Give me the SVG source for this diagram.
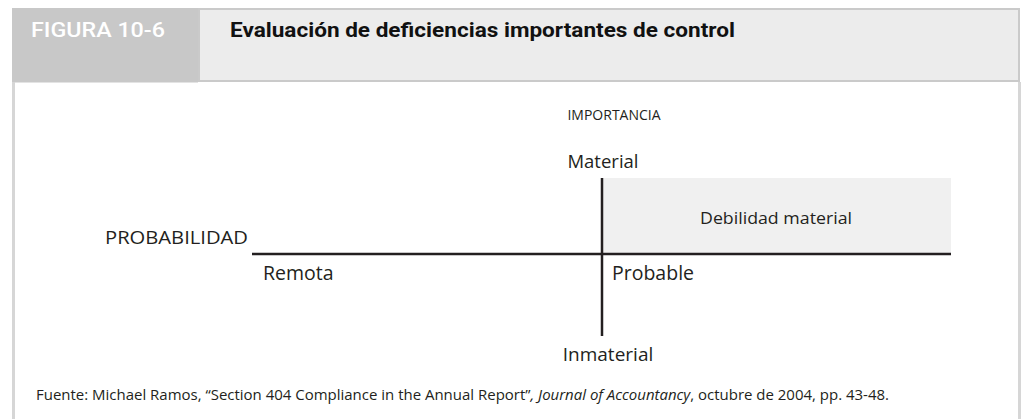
<svg xmlns="http://www.w3.org/2000/svg" width="1022" height="419" viewBox="0 0 1022 419">
<style>
.t{font-family:"Open Sans","Noto Sans",sans-serif;fill:#231f20}
.hd{font-family:Roboto,"Liberation Sans",sans-serif;font-size:20.5px}
.ax{stroke:#231f20;stroke-width:2.5;fill:none}
</style>
<rect width="1022" height="419" fill="#ffffff"/>
<g id="header">
<rect x="199" y="9" width="820" height="72" fill="#ececec" stroke="#cacaca" stroke-width="2"/>
<rect x="12" y="8" width="186" height="74.5" fill="#c8c8c8"/>
<text class="hd" x="31" y="37" fill="#ffffff" font-weight="500" textLength="134" lengthAdjust="spacingAndGlyphs">FIGURA 10-6</text>
<text class="hd" x="230" y="37" fill="#111111" font-weight="bold" textLength="505" lengthAdjust="spacingAndGlyphs">Evaluación de deficiencias importantes de control</text>
</g>
<g id="frame" stroke="#d6d6d6" stroke-width="3">
<line x1="13.5" y1="82" x2="13.5" y2="419"/>
<line x1="1019.5" y1="82" x2="1019.5" y2="419"/>
</g>
<g id="quadrant">
<rect x="603" y="178" width="348" height="75" fill="#f0f0f0"/>
<text class="t" x="776" y="224" font-size="17" text-anchor="middle" textLength="152" lengthAdjust="spacingAndGlyphs">Debilidad material</text>
</g>
<g id="connectors">
<line class="ax" x1="252" y1="254" x2="951" y2="254"/>
<line class="ax" x1="602" y1="178" x2="602" y2="336"/>
</g>
<g id="labels">
<text class="t" x="614" y="120" font-size="14" text-anchor="middle">IMPORTANCIA</text>
<text class="t" x="603" y="168" font-size="18.5" text-anchor="middle">Material</text>
<text class="t" x="608" y="361" font-size="19" text-anchor="middle">Inmaterial</text>
<text class="t" x="105" y="244" font-size="19" textLength="143" lengthAdjust="spacingAndGlyphs">PROBABILIDAD</text>
<text class="t" x="263" y="280" font-size="19.5">Remota</text>
<text class="t" x="612" y="280" font-size="19.5">Probable</text>
</g>
<g id="footer">
<text class="t" x="36" y="400" font-size="14.5" textLength="853" lengthAdjust="spacingAndGlyphs">Fuente: Michael Ramos, “Section 404 Compliance in the Annual Report”<tspan font-style="italic">, Journal of Accountancy</tspan>, octubre de 2004, pp. 43-48.</text>
</g>
</svg>
